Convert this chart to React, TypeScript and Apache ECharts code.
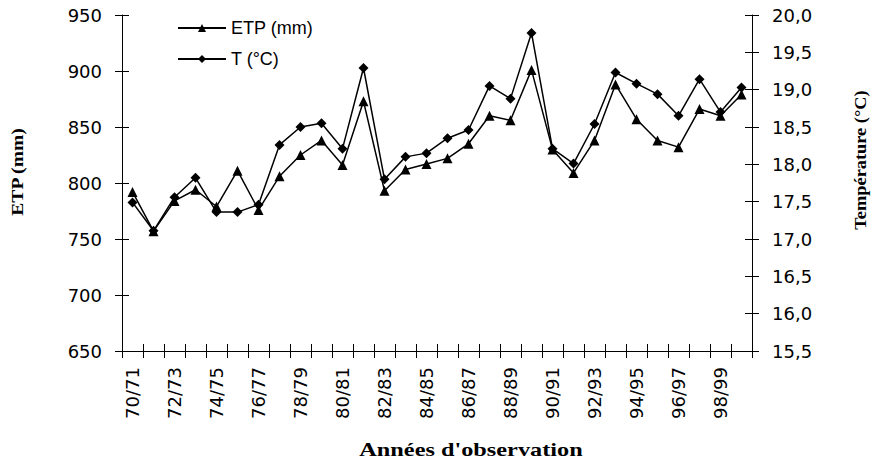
import React, { useEffect, useRef } from "react";
import * as echarts from "echarts";

const categories = [
  "70/71", "71/72", "72/73", "73/74", "74/75", "75/76", "76/77", "77/78", "78/79", "79/80",
  "80/81", "81/82", "82/83", "83/84", "84/85", "85/86", "86/87", "87/88", "88/89", "89/90",
  "90/91", "91/92", "92/93", "93/94", "94/95", "95/96", "96/97", "97/98", "98/99", "99/00",
];

const etpValues = [
  792, 757, 784, 794, 779, 811, 776, 806, 825, 838,
  816, 873, 793, 812, 817, 822, 835, 860, 856, 901,
  830, 809, 838, 888, 857, 838, 832, 866, 860, 879,
];

const tempValues = [
  17.49, 17.11, 17.56, 17.82, 17.36, 17.36, 17.46, 18.26, 18.5, 18.55,
  18.21, 19.29, 17.8, 18.1, 18.15, 18.35, 18.46, 19.05, 18.88, 19.76,
  18.21, 18.01, 18.54, 19.23, 19.08, 18.94, 18.65, 19.14, 18.7, 19.03,
];

const etpAxis = { min: 650, max: 950, interval: 50 };
const tempAxis = { min: 15.5, max: 20, interval: 0.5 };

const seriesNames = ["ETP (mm)", "T (°C)"];
const titles = { left: "ETP (mm)", right: "Température (°C)", bottom: "Années d'observation" };

const BLACK = "#000000";
const AXIS_FONT = "DejaVu Sans";
const TITLE_FONT = "Liberation Serif";

export default function App() {
  const ref = useRef<HTMLDivElement>(null);

  useEffect(() => {
    if (!ref.current) return;
    const chart = echarts.init(ref.current, undefined, { renderer: "svg" });

    const tickStyle = { color: BLACK, width: 1 };
    const labelStyle = { color: BLACK, fontFamily: AXIS_FONT, fontSize: 18 };
    const fmtComma = (v: number) => v.toFixed(1).replace(".", ",");

    const option: any = {
      animation: false,
      backgroundColor: "#ffffff",
      grid: { left: 122, right: 124, top: 15, bottom: 118, outerBoundsMode: "none", containLabel: false },
      legend: {
        orient: "vertical",
        left: 177,
        top: 19,
        padding: 0,
        itemGap: 13,
        itemWidth: 48,
        itemHeight: 10,
        textStyle: { color: BLACK, fontFamily: "Liberation Sans", fontSize: 18 },
        data: seriesNames,
      },
      xAxis: [
        {
          type: "category",
          data: categories,
          boundaryGap: true,
          position: "bottom",
          axisLine: { show: true, lineStyle: tickStyle },
          axisTick: { show: true, interval: 0, length: 7, lineStyle: tickStyle },
          axisLabel: { interval: 1, rotate: 90, margin: 16, padding: [0, 0, 10, 0], ...labelStyle },
          splitLine: { show: false },
        },
        {
          type: "category",
          data: categories,
          boundaryGap: true,
          position: "bottom",
          axisLine: { show: false },
          axisTick: { show: true, inside: true, interval: 0, length: 7, lineStyle: tickStyle },
          axisLabel: { show: false },
          splitLine: { show: false },
        },
      ],
      yAxis: [
        {
          type: "value",
          position: "left",
          ...etpAxis,
          axisLine: { show: true, lineStyle: tickStyle },
          axisTick: { show: true, length: 7, lineStyle: tickStyle },
          axisLabel: { margin: 20, ...labelStyle },
          splitLine: { show: false },
        },
        {
          type: "value",
          position: "right",
          ...tempAxis,
          axisLine: { show: true, lineStyle: tickStyle },
          axisTick: { show: true, length: 7, lineStyle: tickStyle },
          axisLabel: { margin: 20, formatter: fmtComma, ...labelStyle },
          splitLine: { show: false },
        },
        {
          type: "value",
          position: "left",
          ...etpAxis,
          axisLine: { show: false },
          axisTick: { show: true, inside: true, length: 7, lineStyle: tickStyle },
          axisLabel: { show: false },
          splitLine: { show: false },
        },
        {
          type: "value",
          position: "right",
          ...tempAxis,
          axisLine: { show: false },
          axisTick: { show: true, inside: true, length: 7, lineStyle: tickStyle },
          axisLabel: { show: false },
          splitLine: { show: false },
        },
      ],
      series: [
        {
          name: seriesNames[0],
          type: "line",
          xAxisIndex: 0,
          yAxisIndex: 0,
          data: etpValues,
          symbol: "triangle",
          symbolSize: 10,
          showAllSymbol: true,
          lineStyle: { color: BLACK, width: 1.5 },
          itemStyle: { color: BLACK },
          z: 3,
        },
        {
          name: seriesNames[1],
          type: "line",
          xAxisIndex: 0,
          yAxisIndex: 1,
          data: tempValues,
          symbol: "diamond",
          symbolSize: 10,
          showAllSymbol: true,
          lineStyle: { color: BLACK, width: 1.5 },
          itemStyle: { color: BLACK },
          z: 3,
        },
      ],
      graphic: [
        {
          type: "text",
          x: 17,
          y: 172,
          rotation: Math.PI / 2,
          scaleX: 1.15,
          style: {
            text: titles.left,
            fontFamily: TITLE_FONT,
            fontWeight: "bold",
            fontSize: 17,
            fill: BLACK,
            align: "center",
            verticalAlign: "middle",
          },
        },
        {
          type: "text",
          x: 860,
          y: 160,
          rotation: Math.PI / 2,
          scaleX: 1.08,
          style: {
            text: titles.right,
            fontFamily: TITLE_FONT,
            fontWeight: "bold",
            fontSize: 17,
            fill: BLACK,
            align: "center",
            verticalAlign: "middle",
          },
        },
        {
          type: "text",
          x: 471,
          y: 450,
          scaleX: 1.35,
          style: {
            text: titles.bottom,
            fontFamily: TITLE_FONT,
            fontWeight: "bold",
            fontSize: 18,
            fill: BLACK,
            align: "center",
            verticalAlign: "middle",
          },
        },
      ],
    };

    chart.setOption(option);
    return () => chart.dispose();
  }, []);

  return (
    <div
      ref={ref}
      style={{ position: "fixed", left: 0, top: 0, width: 876, height: 469, background: "#fff" }}
    />
  );
}
